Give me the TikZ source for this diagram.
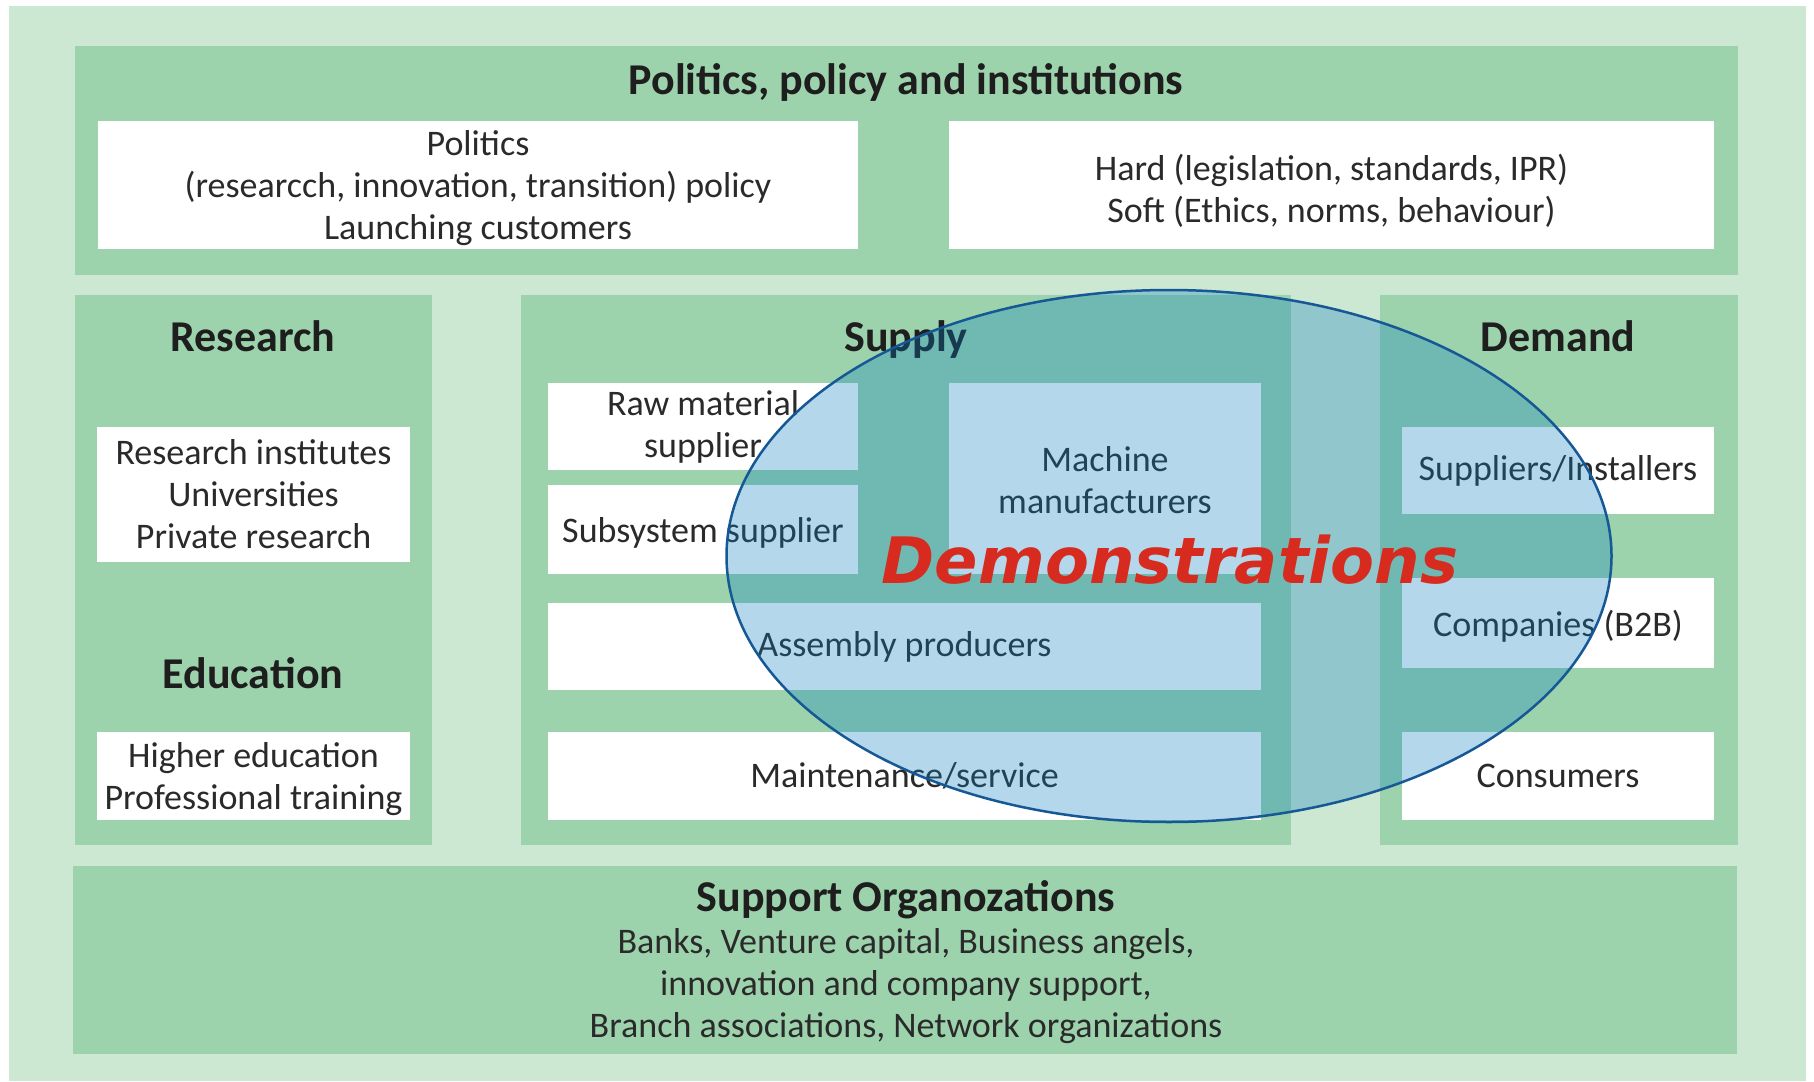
\documentclass[tikz,border=0pt]{standalone}
\usepackage{fontspec}
\setmainfont{Carlito}
\newfontfamily\demofont{DejaVu Sans}
\usetikzlibrary{shapes.geometric}
\definecolor{bglight}{RGB}{204,231,210}
\definecolor{panelg}{RGB}{156,211,172}
\definecolor{ellfill}{RGB}{8,125,192}
\definecolor{ellline}{RGB}{22,88,150}
\definecolor{demored}{RGB}{214,43,30}
\definecolor{txt}{RGB}{42,42,42}
\definecolor{ttxt}{RGB}{30,30,30}
\begin{document}
\begin{tikzpicture}[x=1pt,y=-1pt,
  panel/.style={rectangle, fill=panelg, draw=none, inner sep=0pt},
  wbox/.style={rectangle, fill=white, draw=none, inner sep=0pt, align=center, text=txt,
    font=\fontsize{36}{42}\selectfont},
  plain/.style={inner sep=0pt, align=center, text=txt, font=\fontsize{36}{42}\selectfont},
  ttl/.style={inner sep=0pt, anchor=base, text=ttxt, font=\fontsize{44}{48}\selectfont\bfseries},
  demoell/.style={ellipse, inner sep=0pt, fill=ellfill, fill opacity=0.3, draw=ellline, draw opacity=1, line width=2.5pt},
  demotext/.style={inner sep=0pt, text=demored, font=\demofont\fontsize{64}{70}\selectfont\bfseries\itshape}
]
\useasboundingbox (0,0) rectangle (1814,1081);
\fill[white] (0,0) rectangle (1814,1081);
\fill[bglight] (8.6,6) rectangle (1806,1081);

% panels
\node[panel, minimum width=1663pt, minimum height=229pt] (pol) at (906.5,160.5) {};
\node[panel, minimum width=357pt, minimum height=550pt] (res) at (253.5,570) {};
\node[panel, minimum width=770pt, minimum height=550pt] (sup) at (906,570) {};
\node[panel, minimum width=358pt, minimum height=550pt] (dem) at (1559,570) {};
\node[panel, minimum width=1664pt, minimum height=188pt] (org) at (905,960) {};

% titles
\node[ttl] (poltitle) at (906,94) {Politics, policy and institutions};
\node[ttl] (restitle) at (253,351) {Research};
\node[ttl] (edutitle) at (253,688.5) {Education};
\node[ttl] (suptitle) at (906,351) {Supply};
\node[ttl] (demtitle) at (1558,351) {Demand};
\node[ttl] (orgtitle) at (906,911) {Support Organozations};
\node[plain] (orgtext) at (906,986) {Banks, Venture capital, Business angels,\\innovation and company support,\\Branch associations, Network organizations};

% white boxes
\node[wbox, minimum width=760pt, minimum height=128pt] (polbox) at (478,185) {};
\node[plain] (poltext) at ([yshift=-3.5pt]polbox.center) {Politics\\(researcch, innovation, transition) policy\\Launching customers};
\node[wbox, minimum width=765pt, minimum height=128pt] (hard) at (1331.5,185) {};
\node[plain] (hardtext) at ([yshift=-6pt]hard.center) {Hard (legislation, standards, IPR)\\Soft (Ethics, norms, behaviour)};
\node[wbox, minimum width=313pt, minimum height=135pt] (resbox) at (253.5,494.5) {Research institutes\\Universities\\Private research};
\node[wbox, minimum width=313pt, minimum height=88pt] (edubox) at (253.5,776) {};
\node[plain] (edutext) at ([yshift=-3pt]edubox.center) {Higher education\\Professional training};
\node[wbox, minimum width=310pt, minimum height=87pt] (raw) at (703,426.5) {Raw material\\supplier};
\node[wbox, minimum width=310pt, minimum height=89pt] (subs) at (703,529.5) {};
\node[plain] (substext) at ([yshift=-3.5pt]subs.center) {Subsystem supplier};
\node[wbox, minimum width=312pt, minimum height=191pt] (mach) at (1105,478.5) {};
\node[plain] (machtext) at ([yshift=-1.5pt]mach.center) {Machine\\manufacturers};
\node[wbox, minimum width=713pt, minimum height=87pt] (asm) at (904.5,646.5) {Assembly producers};
\node[wbox, minimum width=713pt, minimum height=88pt] (maint) at (904.5,776) {Maintenance/service};
\node[wbox, minimum width=312pt, minimum height=87pt] (supinst) at (1558,470.5) {Suppliers/Installers};
\node[wbox, minimum width=312pt, minimum height=90pt] (comp) at (1558,623) {};
\node[plain] (comptext) at ([yshift=-3pt]comp.center) {Companies (B2B)};
\node[wbox, minimum width=312pt, minimum height=88pt] (cons) at (1558,776) {Consumers};

% demonstrations ellipse
\node[demoell, minimum width=885pt, minimum height=532pt] (demo) at (1169,556) {};
\node[demotext] (demolabel) at (1170,560) {Demonstrations};
\end{tikzpicture}
\end{document}
